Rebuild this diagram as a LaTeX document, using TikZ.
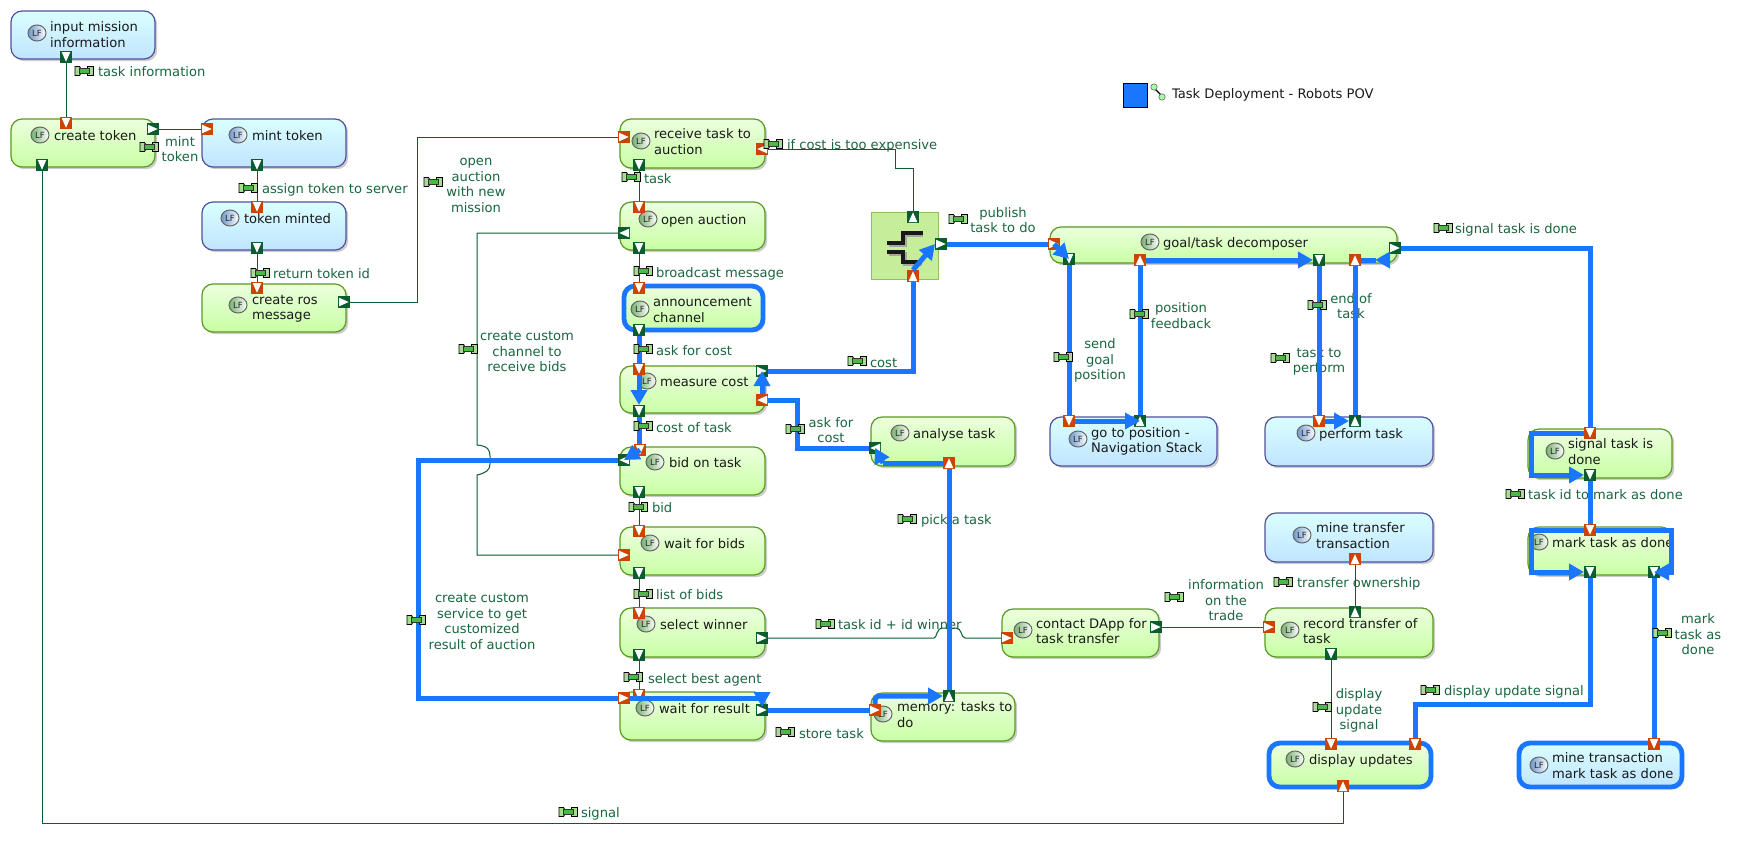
\documentclass[tikz,border=0pt]{standalone}
\usepackage{fontspec}
\setmainfont{DejaVu Sans}
\usetikzlibrary{arrows.meta,shapes.geometric}
\definecolor{bluel}{HTML}{1A75FF}
\definecolor{portgreen}{HTML}{0B5C2E}
\definecolor{portorange}{HTML}{CC4400}
\definecolor{lab}{HTML}{1A6640}
\definecolor{gborder}{HTML}{5A9A20}
\definecolor{bborder}{HTML}{5050A0}
\definecolor{gtop}{HTML}{ECFFDE}
\definecolor{gbot}{HTML}{C8FFA4}
\definecolor{btop}{HTML}{DAFFFF}
\definecolor{bbot}{HTML}{C0E4FF}
\definecolor{joinf}{HTML}{C6EE9A}
\definecolor{joind}{HTML}{8CC060}
\definecolor{pincap}{HTML}{A8DC96}
\definecolor{pinmid}{HTML}{4CB848}
\definecolor{lfgc}{HTML}{78B070}
\definecolor{lfbc}{HTML}{6F98CC}
\newcounter{auto}
\newcommand\strA{\rule{0pt}{10pt}}
\newcommand\strB{\rule[-3pt]{0pt}{3pt}}
\tikzset{
  x=1pt,y=-1pt,
  every node/.style={inner sep=0pt,outer sep=0pt},
  boxbase/.style={rounded corners=11pt,inner sep=0pt,line width=1.2pt,
     preaction={fill=black!20,transform canvas={xshift=2.2pt,yshift=-2.2pt}}},
  gtask/.style={boxbase,draw=gborder,top color=gtop,bottom color=gbot},
  btask/.style={boxbase,draw=bborder,top color=btop,bottom color=bbot},
  gthick/.style={gtask,draw=bluel,line width=4.8pt},
  bthick/.style={btask,draw=bluel,line width=4.8pt},
  joinbox/.style={draw=joind,fill=joinf,line width=1pt,inner sep=0pt},
  portn/.style={minimum size=12pt,inner sep=0pt},
  thinl/.style={draw=portgreen,line width=1pt},
  thickl/.style={draw=bluel,line width=5pt},
  arr/.style={thickl,-{Triangle[length=15pt,width=16pt]}},
  tasktext/.style={font=\fontsize{13.1}{15.5}\selectfont,text=black!90,anchor=west,align=left,yshift=-1.5pt},
  edgetext/.style={font=\fontsize{13.1}{15.5}\selectfont,text=lab,yshift=-1.5pt},
  lficon/.style={ellipse,minimum width=18pt,minimum height=16pt,inner sep=0pt,draw=black!60,line width=1pt,
     font=\fontsize{8.5}{9}\selectfont,text=black!85},
  lfg/.style={lficon,left color=lfgc,right color=white},
  lfb/.style={lficon,left color=lfbc,right color=white},
}
\newcommand\tbox[6]{\node[#6,minimum width={(#4-#2)*1pt},minimum height={(#5-#3)*1pt}] (#1) at ({(#2+#4)/2},{(#3+#5)/2}) {};}
% name, icon x, icon y, text x, text y, text, icon style
\newcommand\tlab[7]{\node[#7] (#1i) at (#2,#3) {LF}; \node[tasktext] (#1t) at (#4,#5) {\strA #6\strB};}
\newcommand\port[5]{\node[portn,fill=#4] (#1) at (#2,#3) {};
  \fill[white,shift={(#2,#3)},rotate=#5] (-4.3pt,5pt)--(4.3pt,5pt)--(0pt,-4.7pt)--cycle;}
\newcommand\lt[3]{\stepcounter{auto}\node[edgetext,anchor=west] (L\theauto) at (#1,#2) {\strA #3\strB};}
\newcommand\ct[3]{\stepcounter{auto}\node[edgetext,align=center] (L\theauto) at (#1,#2) {\strA #3\strB};}
\newcommand\pin[2]{\begin{scope}[shift={(#1,#2)}]
  \filldraw[draw=black,fill=pincap,line width=.9pt] (-9pt,4.5pt) -- (-4.5pt,4.5pt) -- (-3pt,2pt) -- (-3pt,-2pt) -- (-4.5pt,-4.5pt) -- (-9pt,-4.5pt) -- cycle;
  \filldraw[draw=black,fill=pincap,line width=.9pt] (9pt,4.5pt) -- (3.5pt,4.5pt) -- (3.5pt,-4.5pt) -- (9pt,-4.5pt) -- cycle;
  \filldraw[draw=black!80,fill=pinmid,line width=.5pt] (-5pt,2.4pt) rectangle (5pt,-2.4pt);
  \end{scope}}
\begin{document}
\begin{tikzpicture}
\useasboundingbox[fill=white] (0,0) rectangle (1759,852);

% ---- boxes
\tbox{input}{11}{11}{155}{59}{btask}
\tbox{create}{11}{119}{155}{167}{gtask}
\tbox{mint}{202}{119}{346}{167}{btask}
\tbox{minted}{202}{202}{346}{250}{btask}
\tbox{ros}{202}{284}{346}{332}{gtask}
\tbox{receive}{620}{119}{765}{168}{gtask}
\tbox{open}{620}{202}{765}{250}{gtask}
\tbox{announce}{624}{286}{763}{330}{gthick}
\tbox{measure}{620}{366}{765}{413}{gtask}
\tbox{bid}{620}{447}{765}{495}{gtask}
\tbox{waitb}{620}{527}{765}{575}{gtask}
\tbox{select}{620}{608}{765}{657}{gtask}
\tbox{waitr}{620}{692}{765}{740}{gtask}
\tbox{analyse}{871}{417}{1015}{466}{gtask}
\tbox{memory}{871}{693}{1015}{741}{gtask}
\tbox{contact}{1002}{609}{1159}{657}{gtask}
\tbox{minet}{1265}{513}{1433}{562}{btask}
\tbox{record}{1265}{608}{1433}{657}{gtask}
\tbox{display}{1269}{743}{1431}{787}{gthick}
\tbox{minem}{1519}{743}{1682}{787}{bthick}
\tbox{signal}{1528}{429}{1672}{478}{gtask}
\tbox{mark}{1528}{527}{1672}{575}{gtask}
\tbox{goto}{1050}{417}{1217}{466}{btask}
\tbox{perform}{1265}{417}{1433}{466}{btask}
\tbox{goal}{1050}{227}{1397}{263}{gtask}
\node[joinbox,minimum size=67pt] (join) at (904.5,245.5) {};
\draw[black!35,line width=3.6pt] (889,245)--(905,245)--(905,235)--(923,235);
\draw[black!35,line width=3.6pt] (889,254)--(905,254)--(905,264)--(922,264);
\draw[black!90,line width=3.6pt] (887,243)--(903,243)--(903,233)--(923,233);
\draw[black!90,line width=3.6pt] (887,252)--(903,252)--(903,262)--(922,262);

% ---- legend
\node[draw=black,fill=bluel,line width=1pt,minimum size=24pt] (legend) at (1135,95) {};
\draw[black,line width=1.4pt] (1154,88)--(1162,96);
\filldraw[draw=black!60,fill=green!35!white,line width=.6pt] (1154,87) circle (3.2pt);
\filldraw[draw=black!60,fill=green!35!white,line width=.6pt] (1162,97) circle (3.2pt);
\node[tasktext] (title) at (1172,93) {\strA Task Deployment - Robots POV\strB};

% ---- box texts
\tlab{input}{37}{33}{50}{34.5}{input mission\\information}{lfb}
\tlab{create}{40}{135}{54}{135}{create token}{lfg}
\tlab{mint}{238}{135}{252}{135}{mint token}{lfb}
\tlab{minted}{230}{218}{244}{218}{token minted}{lfb}
\tlab{ros}{238}{305}{252}{307}{create ros\\message}{lfg}
\tlab{receive}{641}{141}{654}{141.5}{receive task to\\auction}{lfg}
\tlab{open}{648}{219}{661}{219}{open auction}{lfg}
\tlab{announce}{640}{309}{653}{309.5}{announcement\\channel}{lfg}
\tlab{measure}{647}{381}{660}{381}{measure cost}{lfg}
\tlab{bid}{655}{462}{669}{462}{bid on task}{lfg}
\tlab{waitb}{650}{543}{664}{543}{wait for bids}{lfg}
\tlab{select}{646}{624}{660}{624}{select winner}{lfg}
\tlab{waitr}{645}{708}{659}{708}{wait for result}{lfg}
\tlab{analyse}{900}{433}{913}{433}{analyse task}{lfg}
\tlab{memory}{883}{714}{897}{714.5}{memory: tasks to\\do}{lfg}
\tlab{contact}{1023}{630}{1036}{631}{contact DApp for\\task transfer}{lfg}
\tlab{minet}{1302}{535}{1316}{535.5}{mine transfer\\transaction}{lfb}
\tlab{record}{1290}{630}{1303}{631}{record transfer of\\task}{lfg}
\tlab{display}{1295}{759}{1309}{759}{display updates}{lfg}
\tlab{minem}{1539}{765}{1552}{765.5}{mine transaction\\mark task as done}{lfb}
\tlab{signal}{1555}{451}{1568}{451.5}{signal task is\\done}{lfg}
\tlab{mark}{1539}{542}{1552}{542}{mark task as done}{lfg}
\tlab{goto}{1078}{439}{1091}{440}{go to position -\\Navigation Stack}{lfb}
\tlab{perform}{1306}{433}{1319}{433}{perform task}{lfb}
\tlab{goal}{1150}{242}{1163}{242}{goal/task decomposer}{lfg}

% ---- edge texts
\lt{98}{71}{task information}
\ct{180}{149}{mint\\token}
\lt{262}{188}{assign token to server}
\lt{273}{273}{return token id}
\ct{476}{184}{open\\auction\\with new\\mission}
\ct{527}{351}{create custom\\channel to\\receive bids}
\lt{644}{178}{task}
\lt{787}{144}{if cost is too expensive}
\ct{1003}{220}{publish\\task to do}
\lt{656}{272}{broadcast message}
\lt{656}{350}{ask for cost}
\lt{870}{362}{cost}
\lt{656}{427}{cost of task}
\ct{831}{430}{ask for\\cost}
\lt{921}{519}{pick a task}
\lt{652}{507}{bid}
\lt{656}{594}{list of bids}
\lt{648}{678}{select best agent}
\lt{799}{733}{store task}
\lt{838}{624}{task id + id winner}
\ct{482}{621}{create custom\\service to get\\customized\\result of auction}
\ct{1100}{359}{send\\goal\\position}
\ct{1181}{315.5}{position\\feedback}
\ct{1351}{306}{end of\\task}
\ct{1319}{360}{task to\\perform}
\lt{1455}{228}{signal task is done}
\lt{1528}{494}{task id to mark as done}
\lt{1297}{582}{transfer ownership}
\ct{1226}{600}{information\\on the\\trade}
\ct{1359}{709}{display\\update\\signal}
\lt{1444}{690}{display update signal}
\ct{1698}{634}{mark\\task as\\done}
\lt{581}{812}{signal}

% ---- ports: 0 down, 90 right, 180 up, -90 left
\port{pInputO}{66}{57}{portgreen}{0}
\port{pCreateI}{66}{123}{portorange}{0}
\port{pCreateR}{153}{129}{portgreen}{90}
\port{pCreateB}{42}{165}{portgreen}{0}
\port{pMintI}{207}{129}{portorange}{90}
\port{pMintO}{257}{165}{portgreen}{0}
\port{pMintedI}{257}{207}{portorange}{0}
\port{pMintedO}{257}{248}{portgreen}{0}
\port{pRosI}{257}{288}{portorange}{0}
\port{pRosO}{344}{302}{portgreen}{90}
\port{pRecI}{624}{137}{portorange}{90}
\port{pRecB}{639}{165}{portgreen}{0}
\port{pRecR}{762}{149}{portorange}{-90}
\port{pOpenI}{639}{207}{portorange}{0}
\port{pOpenL}{624}{233}{portgreen}{-90}
\port{pOpenB}{639}{248}{portgreen}{0}
\port{pAnnI}{639}{288}{portorange}{0}
\port{pAnnO}{639}{330}{portgreen}{0}
\port{pMeaI}{639}{369}{portorange}{0}
\port{pMeaR}{762}{371}{portgreen}{90}
\port{pMeaL}{762}{400}{portorange}{-90}
\port{pMeaB}{639}{411}{portgreen}{0}
\port{pJoinT}{913}{217}{portgreen}{180}
\port{pJoinB}{913}{276}{portorange}{180}
\port{pJoinR}{941}{244}{portgreen}{90}
\port{pGoalI}{1054}{244}{portorange}{90}
\port{pGoalA}{1069}{259}{portgreen}{0}
\port{pGoalB}{1140}{260}{portorange}{180}
\port{pGoalC}{1319}{260}{portgreen}{0}
\port{pGoalD}{1355}{260}{portorange}{180}
\port{pGoalR}{1395}{248}{portgreen}{90}
\port{pGotoI}{1069}{421}{portorange}{0}
\port{pGotoO}{1140}{421}{portgreen}{180}
\port{pPerfI}{1319}{421}{portorange}{0}
\port{pPerfO}{1355}{421}{portgreen}{180}
\port{pSigI}{1590}{433}{portorange}{0}
\port{pSigO}{1590}{475}{portgreen}{0}
\port{pMarkI}{1590}{530}{portorange}{0}
\port{pMarkA}{1590}{572}{portgreen}{0}
\port{pMarkB}{1654}{572}{portgreen}{0}
\port{pBidL}{624}{460}{portgreen}{-90}
\port{pBidT}{640}{450}{portorange}{0}
\port{pBidB}{639}{492}{portgreen}{0}
\port{pWaitI}{639}{531}{portorange}{0}
\port{pWaitL}{624}{555}{portorange}{90}
\port{pWaitO}{639}{573}{portgreen}{0}
\port{pSelI}{639}{613}{portorange}{0}
\port{pSelB}{639}{655}{portgreen}{0}
\port{pSelR}{762}{638}{portgreen}{90}
\port{pResT}{639}{695}{portorange}{0}
\port{pResL}{624}{698}{portorange}{90}
\port{pResR}{762}{710}{portgreen}{90}
\port{pAnaL}{875}{448}{portgreen}{-90}
\port{pAnaB}{949}{463}{portorange}{180}
\port{pMemL}{875}{710}{portorange}{90}
\port{pMemT}{949}{696}{portgreen}{180}
\port{pConI}{1007}{638}{portorange}{90}
\port{pConO}{1156}{627}{portgreen}{90}
\port{pMineI}{1355}{559}{portorange}{180}
\port{pRecU}{1355}{612}{portgreen}{180}
\port{pRecL}{1269}{627}{portorange}{90}
\port{pRecD}{1331}{654}{portgreen}{0}
\port{pDisI}{1331}{744}{portorange}{0}
\port{pDisJ}{1415}{744}{portorange}{0}
\port{pDisU}{1343}{786}{portorange}{180}
\port{pMinemI}{1654}{744}{portorange}{0}

% ---- thin connectors
\draw[thinl] (pInputO.south) -- (pCreateI.north);
\draw[thinl] (pCreateR.east) -- (pMintI.west);
\draw[thinl] (pCreateB.south) -- (42,823) -- (1343,823) -- (pDisU.south);
\draw[thinl] (pMintO.south) -- (pMintedI.north);
\draw[thinl] (pMintedO.south) -- (pRosI.north);
\draw[thinl] (pRosO.east) -- (417,302) -- (417,137) -- (pRecI.west);
\draw[thinl] (pRecB.south) -- (pOpenI.north);
\draw[thinl] (pRecR.east) -- (895,149) -- (895,168) -- (913,168) -- (pJoinT.north);
\draw[thinl] (pOpenB.south) -- (pAnnI.north);
\draw[thinl] (pOpenL.west) -- (477,233) -- (477,445) .. controls (488,446) and (490,450) .. (490,456)
   -- (490,464) .. controls (490,470) and (486,473) .. (477,475) -- (477,555) -- (pWaitL.west);
\draw[thinl] (pBidB.south) -- (pWaitI.north);
\draw[thinl] (pWaitO.south) -- (pSelI.north);
\draw[thinl] (pSelB.south) -- (pResT.north);
\draw[thinl] (pSelR.east) -- (934,638) .. controls (937,638) and (936,628) .. (943,628)
   -- (956,628) .. controls (962,628) and (961,638) .. (965,638) -- (pConI.west);
\draw[thinl] (pConO.east) -- (pRecL.west);
\draw[thinl] (pRecU.north) -- (pMineI.south);
\draw[thinl] (pRecD.south) -- (pDisI.north);

% ---- thick connectors
\draw[thickl] (pAnnO.south) -- (pMeaI.north);
\draw[arr] (pMeaI.south) -- (pMeaB.north);
\draw[thickl] (pMeaB.south) -- (pBidT.north -| pMeaB);
\draw[arr] (pBidT.center) -- (pBidL.center);
\draw[thickl] (pBidL.west) -- (418,460) -- (418,698) -- (pResL.west);
\draw[thickl] (pResL.east) -- (764,698);
\coordinate (tipR) at (762,707);
\draw[arr] (762,692) -- (tipR);
\draw[thickl] (pResR.east) -- (pMemL.west);
\draw[arr,rounded corners=4pt] (pMemL.north) -- (875,696) -- (pMemT.west);
\draw[thickl] (pMemT.north) -- (pAnaB.south);
\draw[thickl] (pAnaB.west) -- (883,463);
\draw[arr] (883,463) -- (pAnaL.center);
\draw[thickl] (pAnaL.west) -- (797,448) -- (797,400) -- (pMeaL.east);
\draw[arr] (pMeaL.north) -- (pMeaR.center);
\draw[thickl] (pMeaR.east) -- (913,371) -- (pJoinB.south);
\draw[arr] (pJoinB.north) -- (pJoinR.west);
\draw[thickl] (pJoinR.east) -- (pGoalI.west);
\draw[arr] (pGoalI.center) -- (pGoalA.center);
\draw[thickl] (pGoalA.south) -- (pGotoI.north);
\draw[arr] (pGotoI.east) -- (pGotoO.center);
\draw[thickl] (pGotoO.north) -- (pGoalB.south);
\draw[arr] (pGoalB.east) -- (pGoalC.west);
\draw[thickl] (pGoalC.south) -- (pPerfI.north);
\draw[arr] (pPerfI.east) -- (pPerfO.west);
\draw[thickl] (pPerfO.north) -- (pGoalD.south);
\draw[thickl] (pGoalD.east) -- (1376,260);
\coordinate (tipD) at (1375,260);
\draw[arr] (1390,260) -- (tipD);
\draw[thickl] (pGoalR.east) -- (1590,248) -- (pSigI.north);
\draw[arr] (pSigI.west) -- (1531,433) -- (1531,475) -- (pSigO.west);
\draw[thickl] (pSigO.south) -- (pMarkI.north);
\draw[arr] (pMarkI.west) -- (1531,530) -- (1531,572) -- (pMarkA.west);
\draw[arr] (pMarkI.east) -- (1671,530) -- (1671,572) -- (pMarkB.center);
\draw[thickl] (pMarkA.south) -- (1590,704) -- (1415,704) -- (pDisJ.north);
\draw[thickl] (pMarkB.south) -- (pMinemI.north);

% ---- label icons
\pin{84}{71}\pin{149}{147}\pin{248}{188}\pin{260}{273}\pin{433}{182}\pin{468}{349}
\pin{631}{177}\pin{773}{144}\pin{958}{219}\pin{643}{271}\pin{643}{349}\pin{857}{361}
\pin{643}{426}\pin{795}{429}\pin{907}{519}\pin{638}{507}\pin{643}{594}\pin{633}{677}
\pin{785}{732}\pin{825}{624}\pin{416}{620}\pin{1063}{357}\pin{1139}{314}\pin{1317}{305}
\pin{1280}{358}\pin{1443}{228}\pin{1515}{494}\pin{1283}{582}\pin{1174}{597}\pin{1322}{707}
\pin{1430}{690}\pin{1662}{633}\pin{568}{812}
\end{tikzpicture}
\end{document}
